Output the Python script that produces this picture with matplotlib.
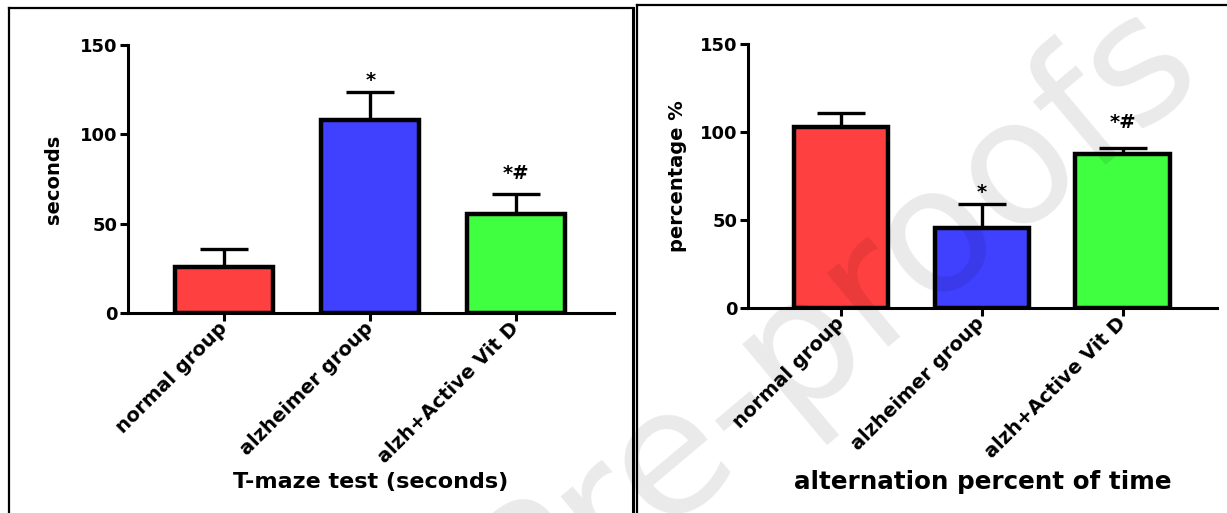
import matplotlib
matplotlib.use("Agg")
import matplotlib.pyplot as plt
from matplotlib.lines import Line2D

categories = ["normal group", "alzheimer group", "alzh+Active Vit D"]
colors = ["#ff4040", "#4040ff", "#40ff40"]

tmaze_values = [26, 108, 55.5]
tmaze_errors = [10, 15.7, 11]
tmaze_marks = ["", "*", "*#"]

alt_values = [103, 45.5, 87.5]
alt_errors = [8, 13.6, 3.5]
alt_marks = ["", "*", "*#"]

yticks = [0, 50, 100, 150]

W, H = 1227, 513
fig = plt.figure(figsize=(W / 100, H / 100), dpi=100)
plt.rcParams['font.family'] = ['DejaVu Sans']


def px_axes(x0, x1, y_top, y_bot):
    return fig.add_axes([x0 / W, 1 - y_bot / H, (x1 - x0) / W, (y_bot - y_top) / H])


def draw_panel(ax, values, errors, marks, ylabel, xlabel, ylab_x, xlab_y, xlab_size, mark_offsets):
    x = list(range(len(values)))
    ax.bar(x, values, width=0.67, color=colors, edgecolor="black", linewidth=3.2, zorder=2)
    ax.errorbar(x, values, yerr=[[0] * len(values), errors], fmt="none", ecolor="black",
                elinewidth=2.4, capsize=17, capthick=2.4, zorder=1)
    for xi, v, e, m, off in zip(x, values, errors, marks, mark_offsets):
        if m:
            ax.annotate(m, (xi, v + e), xytext=(0, off), textcoords="offset points",
                        ha="center", va="center", fontsize=14, fontweight="bold")
    ax.set_xlim(-0.66, 2.67)
    ax.set_ylim(0, 150)
    ax.set_yticks(yticks)
    ax.set_xticks(x)
    ax.set_xticklabels(categories, rotation=45, ha="right", va="center",
                       rotation_mode="anchor", fontsize=14, fontweight="bold")
    for lab in ax.get_yticklabels():
        lab.set_fontsize(13)
        lab.set_fontweight("bold")
    for s in ["top", "right"]:
        ax.spines[s].set_visible(False)
    for s in ["left", "bottom"]:
        ax.spines[s].set_linewidth(2.2)
    ax.tick_params(axis="y", direction="out", length=5.5, width=2.2, pad=2)
    ax.tick_params(axis="x", direction="out", length=6, width=2.2, pad=3)
    ax.set_ylabel(ylabel, fontsize=14, fontweight="bold")
    ax.yaxis.set_label_coords(ylab_x, 0.5)
    ax.set_xlabel(xlabel, fontsize=xlab_size, fontweight="bold")
    ax.xaxis.set_label_coords(0.5, xlab_y)


ax1 = px_axes(128, 614, 45, 313)
draw_panel(ax1, tmaze_values, tmaze_errors, tmaze_marks, "seconds", "T-maze test (seconds)",
           -0.134, -0.595, 16, [0, 8, 15])

ax2 = px_axes(748, 1217, 44, 308)
draw_panel(ax2, alt_values, alt_errors, alt_marks, "percentage %", "alternation percent of time",
           -0.130, -0.615, 17.7, [0, 8, 18])

# panel borders
def fline(xs, ys, lw):
    fig.add_artist(Line2D([x / W for x in xs], [1 - y / H for y in ys], color="black",
                          linewidth=lw, transform=fig.transFigure))

fline([9, 9], [8, 513], 1.6)
fline([9, 633], [8, 8], 1.6)
fline([632.5, 632.5], [8, 513], 2.2)
fline([636.5, 636.5], [5, 513], 1.6)
fline([636.5, 1227], [5, 5], 1.6)

# watermark
fig.text(1210 / W, 1 - 85 / H, "Journal Pre-proofs", fontsize=125, color="black", alpha=0.085,
         rotation=40, rotation_mode="anchor", ha="right", va="baseline", zorder=10)

fig.savefig("out.png", dpi=100)
